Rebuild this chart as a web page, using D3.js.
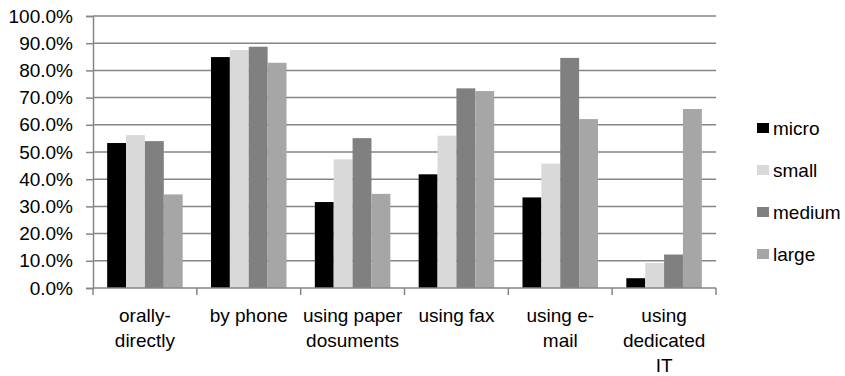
<!DOCTYPE html>
<html>
<head>
<meta charset="utf-8">
<script src="https://cdn.jsdelivr.net/npm/d3@7"></script>
<style>
  html, body { margin: 0; padding: 0; background: #fff; }
  svg { display: block; font-family: "Liberation Sans", Arial, sans-serif; }
</style>
</head>
<body>
<svg id="chart" width="845" height="376"></svg>
<script>
// Categories (each label split into its display lines)
const categories = ["orally-directly", "by phone", "using paper dosuments", "using fax", "using e-mail", "using dedicated IT"];
const categoryLines = [["orally-", "directly"], ["by phone"], ["using paper", "dosuments"], ["using fax"], ["using e-", "mail"], ["using", "dedicated", "IT"]];

// Series: share of firms (%) per communication channel
const seriesNames = ["micro", "small", "medium", "large"];
const micro  = [53.3, 84.9, 31.6, 41.8, 33.3, 3.6];
const small  = [56.2, 87.5, 47.3, 56.0, 45.7, 9.2];
const medium = [54.0, 88.7, 55.1, 73.4, 84.6, 12.3];
const large  = [34.4, 82.8, 34.6, 72.4, 62.1, 65.8];
const seriesValues = [micro, small, medium, large];
const seriesColors = ["#000000", "#d9d9d9", "#808080", "#a6a6a6"];

// Y axis tick values
const yTicks = [0, 10, 20, 30, 40, 50, 60, 70, 80, 90, 100];

const svg = d3.select("#chart");
const plot = { left: 93, right: 716, top: 16, bottom: 288 };
const gridColor = "#868686";

const x0 = d3.scaleBand().domain(categories).range([plot.left, plot.right]).paddingInner(0).paddingOuter(0);
// bars touch each other; gap between groups is 1.5 bar widths
const x1 = d3.scaleBand().domain(seriesNames).range([0, x0.bandwidth()]).paddingInner(0).paddingOuter(0.75);
const y = d3.scaleLinear().domain([0, 100]).range([plot.bottom, plot.top]);

// Horizontal gridlines
svg.append("g")
  .selectAll("line")
  .data(yTicks.filter(t => t > 0))
  .join("line")
  .attr("x1", plot.left).attr("x2", plot.right)
  .attr("y1", d => y(d)).attr("y2", d => y(d))
  .attr("stroke", gridColor).attr("stroke-width", 1.5);

// Bars
const groups = svg.append("g")
  .selectAll("g")
  .data(categories)
  .join("g")
  .attr("transform", d => `translate(${x0(d)},0)`);

groups.selectAll("rect")
  .data((c, i) => seriesNames.map((s, k) => ({ s, v: seriesValues[k][i], color: seriesColors[k] })))
  .join("rect")
  .attr("x", d => x1(d.s))
  .attr("width", x1.bandwidth())
  .attr("y", d => y(d.v))
  .attr("height", d => y(0) - y(d.v))
  .attr("fill", d => d.color);

// Y axis
const yAxis = d3.axisLeft(y)
  .tickValues(yTicks)
  .tickSize(7)
  .tickPadding(13)
  .tickFormat(d => d3.format(".1f")(d) + "%");
const gy = svg.append("g").attr("transform", `translate(${plot.left},0)`).call(yAxis);
gy.select(".domain").attr("stroke", gridColor).attr("stroke-width", 1.5);
gy.selectAll(".tick line").attr("stroke", gridColor).attr("stroke-width", 1.5);
gy.selectAll(".tick text").attr("font-size", 19).attr("fill", "#000").attr("font-family", "Liberation Sans, Arial, sans-serif");

// X axis with category boundary ticks
const gx = svg.append("g").attr("transform", `translate(0,${plot.bottom})`);
gx.append("line")
  .attr("x1", plot.left).attr("x2", plot.right)
  .attr("stroke", gridColor).attr("stroke-width", 1.5);
const boundaries = categories.map(c => x0(c)).concat([plot.right]);
gx.selectAll("line.tick")
  .data(boundaries)
  .join("line")
  .attr("class", "tick")
  .attr("x1", d => d).attr("x2", d => d)
  .attr("y1", 0).attr("y2", 7)
  .attr("stroke", gridColor).attr("stroke-width", 1.5);

const labels = gx.selectAll("text")
  .data(categories)
  .join("text")
  .attr("x", d => x0(d) + x0.bandwidth() / 2)
  .attr("text-anchor", "middle")
  .attr("font-size", 19)
  .attr("fill", "#000");
labels.each(function (d, i) {
  d3.select(this).selectAll("tspan")
    .data(categoryLines[i])
    .join("tspan")
    .attr("x", x0(d) + x0.bandwidth() / 2)
    .attr("y", (t, j) => 34 + j * 25)
    .text(t => t);
});

// Legend
const legend = svg.append("g")
  .selectAll("g")
  .data(seriesNames)
  .join("g")
  .attr("transform", (d, i) => `translate(757,${128 + i * 42})`);
legend.append("rect")
  .attr("x", 0).attr("y", -5).attr("width", 12).attr("height", 10)
  .attr("fill", (d, i) => seriesColors[i]);
legend.append("text")
  .attr("x", 16).attr("y", 0).attr("dy", "0.35em")
  .attr("font-size", 19).attr("fill", "#000")
  .text(d => d);
</script>
</body>
</html>
